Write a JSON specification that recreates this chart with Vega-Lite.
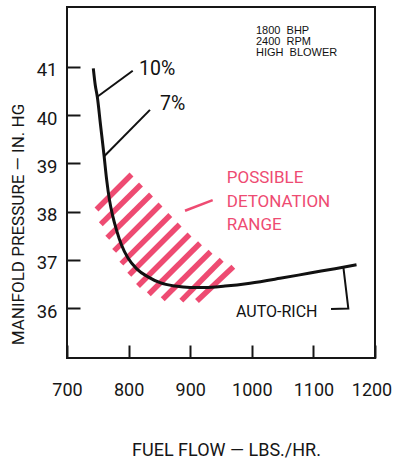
{
  "$schema": "https://vega.github.io/schema/vega-lite/v6.json",
  "width": 308,
  "height": 351,
  "autosize": {"type": "none"},
  "padding": {"left": 67, "top": 7, "right": 18, "bottom": 103},
  "background": "#ffffff",
  "config": {
    "view": {"stroke": "#161616", "strokeWidth": 2},
    "font": "Roboto",
    "axis": {"grid": false, "domain": false}
  },
  "datasets": {
    "curve": [
      {"flow": 742.7, "pressure": 40.97},
      {"flow": 745.9, "pressure": 40.62},
      {"flow": 749.2, "pressure": 40.38},
      {"flow": 754.4, "pressure": 39.8},
      {"flow": 760.1, "pressure": 39.17},
      {"flow": 764.4, "pressure": 38.66},
      {"flow": 769.0, "pressure": 38.24},
      {"flow": 773.9, "pressure": 37.93},
      {"flow": 780.4, "pressure": 37.62},
      {"flow": 788.5, "pressure": 37.31},
      {"flow": 799.0, "pressure": 37.04},
      {"flow": 813.6, "pressure": 36.81},
      {"flow": 831.5, "pressure": 36.65},
      {"flow": 851.0, "pressure": 36.53},
      {"flow": 875.3, "pressure": 36.46},
      {"flow": 899.7, "pressure": 36.43},
      {"flow": 924.0, "pressure": 36.43},
      {"flow": 956.5, "pressure": 36.46},
      {"flow": 997.1, "pressure": 36.52},
      {"flow": 1045.8, "pressure": 36.62},
      {"flow": 1094.5, "pressure": 36.73},
      {"flow": 1135.1, "pressure": 36.82},
      {"flow": 1170.0, "pressure": 36.9}
    ],
    "stripes": [
      {"flow": 747.9, "pressure": 38.046, "flow2": 804.7, "pressure2": 38.771},
      {"flow": 754.9, "pressure": 37.741, "flow2": 820.1, "pressure2": 38.564},
      {"flow": 765.4, "pressure": 37.462, "flow2": 836.4, "pressure2": 38.356},
      {"flow": 776.5, "pressure": 37.188, "flow2": 851.8, "pressure2": 38.149},
      {"flow": 788.3, "pressure": 36.925, "flow2": 867.7, "pressure2": 37.932},
      {"flow": 801.1, "pressure": 36.695, "flow2": 882.8, "pressure2": 37.735},
      {"flow": 815.3, "pressure": 36.461, "flow2": 898.9, "pressure2": 37.528},
      {"flow": 832.8, "pressure": 36.291, "flow2": 915.9, "pressure2": 37.346},
      {"flow": 855.4, "pressure": 36.186, "flow2": 933.0, "pressure2": 37.172},
      {"flow": 885.6, "pressure": 36.157, "flow2": 951.1, "pressure2": 37.006},
      {"flow": 911.0, "pressure": 36.15, "flow2": 970.0, "pressure2": 36.861}
    ],
    "leaders": [
      {"flow": 749.2, "pressure": 40.38, "flow2": 806.7, "pressure2": 40.92},
      {"flow": 760.4, "pressure": 39.15, "flow2": 834.7, "pressure2": 40.11}
    ],
    "pinkLeader": [
      {"flow": 891.6, "pressure": 38.02, "flow2": 936.5, "pressure2": 38.24}
    ],
    "bracket": [
      {"i": 1, "flow": 1148.5, "pressure": 36.87},
      {"i": 2, "flow": 1156.7, "pressure": 35.995},
      {"i": 3, "flow": 1128.6, "pressure": 35.985}
    ],
    "pct": [
      {"flow": 816.9, "pressure": 40.832, "label": "10%"},
      {"flow": 851.0, "pressure": 40.107, "label": "7%"}
    ],
    "pinkText": [
      {"flow": 959.3, "pressure": 38.588, "label": "POSSIBLE"},
      {"flow": 959.3, "pressure": 38.104, "label": "DETONATION"},
      {"flow": 959.3, "pressure": 37.621, "label": "RANGE"}
    ],
    "auto": [
      {"flow": 974.4, "pressure": 35.825, "label": "AUTO-RICH"}
    ],
    "small": [
      {"flow": 1006.8, "pressure": 41.691, "label": "1800\u00a0 BHP"},
      {"flow": 1006.8, "pressure": 41.463, "label": "2400\u00a0 RPM"},
      {"flow": 1006.8, "pressure": 41.235, "label": "HIGH\u00a0 BLOWER"}
    ]
  },
  "encoding": {
    "x": {
      "field": "flow",
      "type": "quantitative",
      "scale": {"domain": [700, 1200], "nice": false, "zero": false},
      "axis": {
        "values": [700, 800, 900, 1000, 1100, 1200],
        "format": "d",
        "labelFont": "Roboto",
        "labelFontSize": 18,
        "labelColor": "#161616",
        "labelBaseline": "alphabetic",
        "labelPadding": 50,
        "labelOffset": {"condition": {"test": "datum.value == 1200", "value": -3.5}, "value": 0},
        "labelFlush": false,
        "labelOverlap": false,
        "tickSize": -13,
        "tickWidth": 2,
        "tickColor": "#161616",
        "title": "FUEL  FLOW — LBS./HR.",
        "titleFont": "Roboto",
        "titleFontSize": 18,
        "titleFontWeight": "normal",
        "titleColor": "#161616",
        "titleX": 159,
        "titleY": 97,
        "titleAlign": "center",
        "titleBaseline": "alphabetic"
      }
    },
    "y": {
      "field": "pressure",
      "type": "quantitative",
      "scale": {"domain": [34.97, 42.24], "nice": false, "zero": false},
      "axis": {
        "values": [36, 37, 38, 39, 40, 41],
        "format": "d",
        "labelFont": "Roboto",
        "labelFontSize": 18.5,
        "labelColor": "#161616",
        "labelBaseline": "alphabetic",
        "labelOffset": 9,
        "labelPadding": 23,
        "labelOverlap": false,
        "tickSize": -13,
        "tickWidth": 2,
        "tickColor": "#161616",
        "title": "MANIFOLD PRESSURE — IN. HG",
        "titleFont": "Roboto",
        "titleFontSize": 17,
        "titleFontWeight": "normal",
        "titleColor": "#161616",
        "titleX": -44,
        "titleY": 217,
        "titleAlign": "center",
        "titleBaseline": "alphabetic",
        "titleAngle": 270
      }
    }
  },
  "layer": [
    {
      "data": {"name": "stripes"},
      "mark": {"type": "rule", "color": "#ee4b72", "strokeWidth": 5.5, "strokeCap": "butt"},
      "encoding": {"x2": {"field": "flow2"}, "y2": {"field": "pressure2"}}
    },
    {
      "data": {"name": "pinkLeader"},
      "mark": {"type": "rule", "color": "#ee4b72", "strokeWidth": 2.5},
      "encoding": {"x2": {"field": "flow2"}, "y2": {"field": "pressure2"}}
    },
    {
      "data": {"name": "curve"},
      "mark": {"type": "line", "color": "#111111", "strokeWidth": 3, "interpolate": "monotone"},
      "encoding": {}
    },
    {
      "data": {"name": "leaders"},
      "mark": {"type": "rule", "color": "#111111", "strokeWidth": 2},
      "encoding": {"x2": {"field": "flow2"}, "y2": {"field": "pressure2"}}
    },
    {
      "data": {"name": "bracket"},
      "mark": {"type": "line", "color": "#111111", "strokeWidth": 2},
      "encoding": {"order": {"field": "i", "type": "quantitative"}}
    },
    {
      "data": {"name": "pct"},
      "mark": {"type": "text", "align": "left", "baseline": "alphabetic", "fontSize": 19.5, "font": "Roboto", "color": "#111111"},
      "encoding": {"text": {"field": "label"}}
    },
    {
      "data": {"name": "pinkText"},
      "mark": {"type": "text", "align": "left", "baseline": "alphabetic", "fontSize": 17, "font": "Roboto", "color": "#ee4b72"},
      "encoding": {"text": {"field": "label"}}
    },
    {
      "data": {"name": "auto"},
      "mark": {"type": "text", "align": "left", "baseline": "alphabetic", "fontSize": 16, "font": "Roboto", "color": "#111111"},
      "encoding": {"text": {"field": "label"}}
    },
    {
      "data": {"name": "small"},
      "mark": {"type": "text", "align": "left", "baseline": "alphabetic", "fontSize": 11, "font": "Liberation Sans", "color": "#111111"},
      "encoding": {"text": {"field": "label"}}
    }
  ]
}
